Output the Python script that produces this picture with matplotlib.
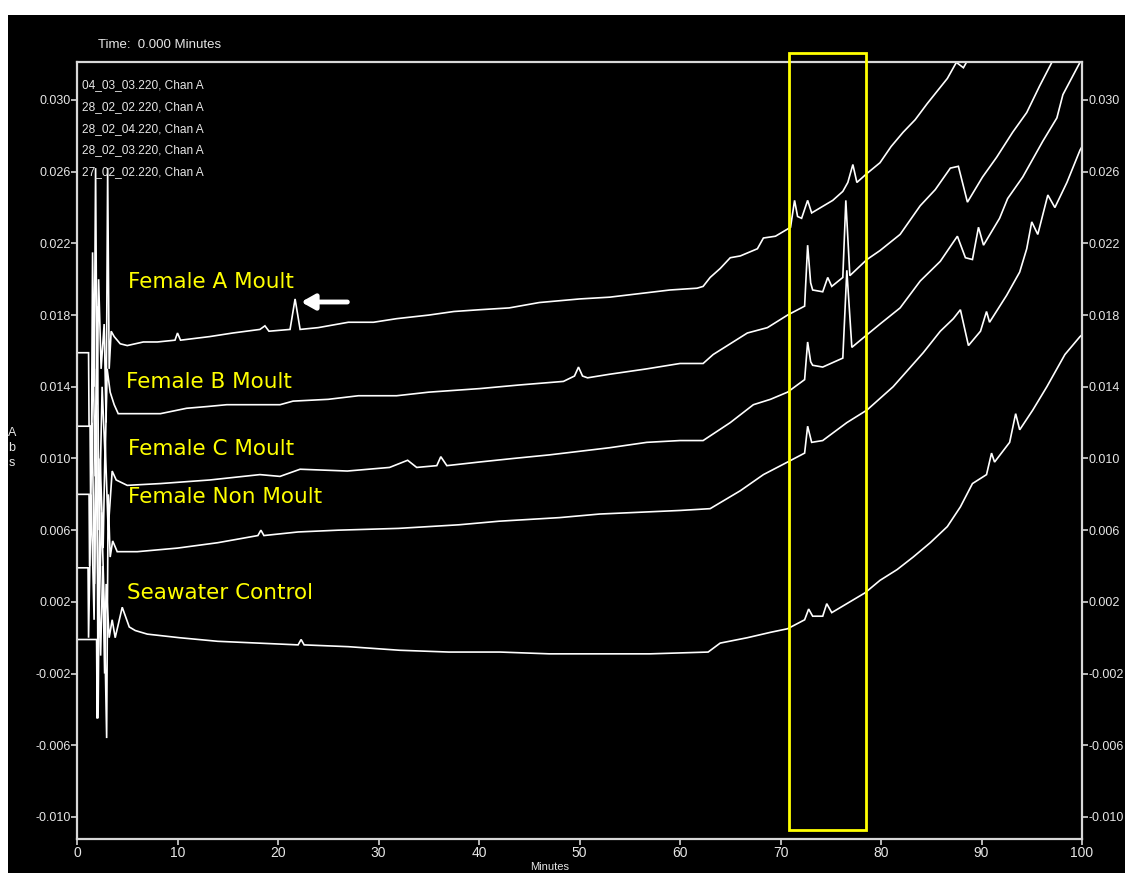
import matplotlib
matplotlib.use("Agg")
import matplotlib.pyplot as plt
from matplotlib.patches import Rectangle

# ---------------- data ----------------
female_a = [(0, 0.0159), (1.15, 0.0159), (1.2, 0.0118), (1.45, 0.0118), (1.55, 0.0215), (1.7, 0.0140),
            (1.85, 0.0262), (2.0, 0.0130), (2.15, 0.0200), (2.4, 0.0150), (2.7, 0.0175), (2.9, 0.0120),
            (3.05, 0.0262), (3.2, 0.0150), (3.4, 0.0171), (3.7, 0.0168), (4.3, 0.0164), (5.0, 0.0163),
            (6.6, 0.0165), (8.0, 0.0165), (9.75, 0.0166), (10.0, 0.0170), (10.3, 0.0166), (13.2, 0.0168),
            (15.5, 0.0170), (18.2, 0.0172), (18.7, 0.0174), (19.1, 0.0171), (21.2, 0.0172), (21.7, 0.0189),
            (22.2, 0.0172), (24.0, 0.0173), (27.0, 0.0176), (29.5, 0.0176), (31.8, 0.0178), (35.0, 0.0180),
            (37.5, 0.0182), (40.1, 0.0183), (43.0, 0.0184), (46.0, 0.0187), (50.0, 0.0189), (53.0, 0.0190),
            (56.0, 0.0192), (59.0, 0.0194), (61.7, 0.0195), (62.3, 0.0196), (63.0, 0.0201), (64.0, 0.0206),
            (65.0, 0.0212), (66.0, 0.0213), (67.7, 0.0217), (68.3, 0.0223), (69.5, 0.0224), (70.7, 0.0228),
            (71.0, 0.0229), (71.4, 0.0244), (71.7, 0.0235), (72.1, 0.0234), (72.7, 0.0244), (73.1, 0.0237),
            (74.0, 0.0240), (75.2, 0.0244), (76.2, 0.0249), (76.7, 0.0254), (77.2, 0.0264), (77.6, 0.0254),
            (78.6, 0.0259), (79.9, 0.0265), (81.0, 0.0274), (82.2, 0.0282), (83.4, 0.0289), (84.6, 0.0298),
            (85.6, 0.0305), (86.6, 0.0312), (87.5, 0.0321), (88.2, 0.0318), (88.8, 0.0324), (90.0, 0.0340)]

female_b = [(0, 0.0118), (1.3, 0.0118), (1.35, 0.0080), (1.6, 0.0160), (1.8, 0.0090), (2.0, 0.0185),
            (2.2, 0.0060), (2.5, 0.0140), (2.8, 0.0100), (3.0, 0.0150), (3.3, 0.0137), (3.7, 0.0130),
            (4.1, 0.0125), (6.0, 0.0125), (8.3, 0.0125), (10.9, 0.0128), (13.0, 0.0129), (14.9, 0.0130),
            (18.2, 0.0130), (20.2, 0.0130), (21.5, 0.0132), (25.0, 0.0133), (28.0, 0.0135), (31.8, 0.0135),
            (35.0, 0.0137), (40.1, 0.0139), (44.0, 0.0141), (48.4, 0.0143), (49.5, 0.0146), (49.9, 0.0151),
            (50.3, 0.0146), (50.8, 0.0145), (53.0, 0.0147), (56.7, 0.0150), (60.0, 0.0153), (62.3, 0.0153),
            (63.3, 0.0158), (65.0, 0.0164), (66.7, 0.0170), (68.7, 0.0173), (70.7, 0.0180), (72.4, 0.0185),
            (72.7, 0.0219), (73.0, 0.0198), (73.2, 0.0194), (74.2, 0.0193), (74.7, 0.0201), (75.1, 0.0196),
            (76.2, 0.0201), (76.5, 0.0244), (76.9, 0.0202), (78.6, 0.0211), (79.9, 0.0216), (81.9, 0.0225),
            (83.9, 0.0241), (85.4, 0.0250), (86.9, 0.0262), (87.7, 0.0263), (88.6, 0.0243), (90.1, 0.0257),
            (91.5, 0.0268), (93.1, 0.0282), (94.5, 0.0293), (95.8, 0.0308), (97.0, 0.0321), (98.0, 0.0330)]

female_c = [(0, 0.0080), (1.2, 0.0080), (1.25, 0.0040), (1.5, 0.0120), (1.75, 0.0030), (1.95, 0.0150),
            (2.1, -0.0045), (2.3, 0.0100), (2.6, 0.0050), (2.8, 0.0110), (3.1, 0.0060), (3.5, 0.0093),
            (3.9, 0.0088), (5.0, 0.0085), (8.3, 0.0086), (13.2, 0.0088), (18.2, 0.0091), (20.2, 0.0090),
            (22.2, 0.0094), (26.9, 0.0093), (31.1, 0.0095), (32.9, 0.0099), (33.8, 0.0095), (35.8, 0.0096),
            (36.2, 0.0101), (36.8, 0.0096), (40.0, 0.0098), (43.4, 0.0100), (47.0, 0.0102), (50.0, 0.0104),
            (53.0, 0.0106), (56.7, 0.0109), (60.0, 0.0110), (62.3, 0.0110), (65.0, 0.0120), (67.3, 0.0130),
            (69.0, 0.0133), (70.7, 0.0137), (72.4, 0.0144), (72.7, 0.0165), (73.0, 0.0154), (73.2, 0.0152),
            (74.2, 0.0151), (76.2, 0.0156), (76.6, 0.0205), (77.1, 0.0162), (78.6, 0.0169), (79.9, 0.0175),
            (81.9, 0.0184), (83.9, 0.0199), (85.9, 0.0210), (87.6, 0.0224), (88.4, 0.0212), (89.1, 0.0211),
            (89.7, 0.0229), (90.2, 0.0219), (91.8, 0.0234), (92.6, 0.0245), (94.1, 0.0257), (96.1, 0.0277),
            (97.5, 0.0290), (98.1, 0.0303), (99.8, 0.0321), (100.0, 0.0323)]

female_non = [(0, 0.0039), (1.1, 0.0039), (1.15, 0.0000), (1.4, 0.0080), (1.7, 0.0010), (1.9, 0.0110),
              (2.15, 0.0000), (2.45, 0.0070), (2.7, 0.0020), (2.95, -0.0056), (3.1, 0.0080), (3.3, 0.0045),
              (3.55, 0.0054), (4.0, 0.0048), (6.0, 0.0048), (10.0, 0.0050), (14.0, 0.0053), (18.0, 0.0057),
              (18.3, 0.0060), (18.6, 0.0057), (22.0, 0.0059), (26.0, 0.0060), (32.0, 0.0061), (38.0, 0.0063),
              (42.0, 0.0065), (48.0, 0.0067), (52.0, 0.0069), (56.0, 0.0070), (60.0, 0.0071), (63.0, 0.0072),
              (66.0, 0.0082), (68.3, 0.0091), (70.7, 0.0098), (72.4, 0.0103), (72.7, 0.0118), (73.1, 0.0109),
              (74.2, 0.0110), (76.6, 0.0120), (78.6, 0.0127), (81.2, 0.0140), (84.2, 0.0159), (85.9, 0.0171),
              (87.2, 0.0178), (87.9, 0.0183), (88.7, 0.0163), (89.9, 0.0171), (90.5, 0.0182), (90.8, 0.0176),
              (92.5, 0.0191), (93.8, 0.0204), (94.5, 0.0217), (95.0, 0.0232), (95.6, 0.0225), (96.6, 0.0247),
              (97.3, 0.0240), (98.5, 0.0254), (99.8, 0.0272), (100.0, 0.0274)]

seawater = [(0, -0.0001), (1.95, -0.0001), (2.0, -0.0045), (2.15, 0.0030), (2.35, -0.0010), (2.55, 0.0040),
            (2.75, -0.0020), (2.9, 0.0030), (3.2, 0.0000), (3.5, 0.0010), (3.8, 0.0000), (4.5, 0.0017),
            (5.2, 0.0006), (5.8, 0.0004), (7.0, 0.0002), (10.2, 0.0000), (14.0, -0.0002), (18.0, -0.0003),
            (22.0, -0.0004), (22.3, -0.0001), (22.6, -0.0004), (27.0, -0.0005), (32.1, -0.0007), (37.0, -0.0008),
            (42.1, -0.0008), (47.0, -0.0009), (52.0, -0.0009), (57.0, -0.0009), (62.8, -0.0008), (64.0, -0.0003),
            (66.7, 0.0000), (69.0, 0.0003), (70.7, 0.0005), (72.4, 0.0010), (72.8, 0.0016), (73.2, 0.0012),
            (74.2, 0.0012), (74.6, 0.0019), (75.1, 0.0014), (76.6, 0.0019), (78.4, 0.0025), (79.9, 0.0032),
            (81.6, 0.0038), (83.2, 0.0045), (84.9, 0.0053), (86.6, 0.0062), (87.9, 0.0073), (89.1, 0.0086),
            (90.5, 0.0091), (91.0, 0.0103), (91.3, 0.0098), (92.8, 0.0109), (93.4, 0.0125), (93.8, 0.0116),
            (95.1, 0.0127), (96.5, 0.0140), (98.3, 0.0158), (99.8, 0.0168), (100.0, 0.0169)]

traces = [female_a, female_b, female_c, female_non, seawater]

file_names = ["04_03_03.220, Chan A", "28_02_02.220, Chan A", "28_02_04.220, Chan A",
              "28_02_03.220, Chan A", "27_02_02.220, Chan A"]
sample_labels = ["Female A Moult", "Female B Moult", "Female C Moult",
                 "Female Non Moult", "Seawater Control"]
y_ticks = [0.030, 0.026, 0.022, 0.018, 0.014, 0.010, 0.006, 0.002, -0.002, -0.006, -0.010]
x_ticks = [0, 10, 20, 30, 40, 50, 60, 70, 80, 90, 100]
window_minutes = (70.85, 78.5)      # highlighted retention window
window_abs = (-0.01073, 0.03262)
arrow_peak = (22.2, 0.01873)        # peak flagged on Female A

# ---------------- figure ----------------
W, H = 1125, 873
fig = plt.figure(figsize=(W / 100, H / 100), dpi=100, facecolor="white")
fig.patches.append(Rectangle((8 / W, 0), 1 - 8 / W, 1 - 15 / H, transform=fig.transFigure,
                             facecolor="black", edgecolor="none", zorder=-10))


def fpos(px, py):
    return px / W, 1 - py / H


left, right, top, bottom = 77, 1082, 62, 839
ax = fig.add_axes([left / W, 1 - bottom / H, (right - left) / W, (bottom - top) / H])
ax.set_facecolor("black")
ax.set_xlim(0, 100)
ax.set_ylim(-0.01123, 0.03212)

small = "Liberation Sans"
fg = "#e6e6e6"

for tr in traces:
    t = [p[0] for p in tr]
    v = [p[1] for p in tr]
    ax.plot(t, v, color="white", lw=1.2, solid_joinstyle="miter")

for s in ax.spines.values():
    s.set_color("#d8d8d8")
    s.set_linewidth(1.6)

ax.set_xticks(x_ticks)
ax.set_xticklabels([str(x) for x in x_ticks], family=small, fontsize=10, color=fg)
ax.set_yticks(y_ticks)
ax.set_yticklabels([f"{y:.3f}" for y in y_ticks], family=small, fontsize=9, color=fg)
ax.tick_params(axis="both", direction="out", color="#d8d8d8", length=4, width=1.2, pad=1)
ax.tick_params(axis="y", left=True, right=True, labelleft=True, labelright=True)
ax.tick_params(axis="y", which="major", pad=0.5)

# highlighted window
ax.add_patch(Rectangle((window_minutes[0], window_abs[0]), window_minutes[1] - window_minutes[0],
                       window_abs[1] - window_abs[0], facecolor="none", edgecolor="#ffff00", lw=2,
                       clip_on=False, zorder=5))

# arrow pointing at the flagged peak
ax.annotate("", xy=(arrow_peak[0] + 0.1, arrow_peak[1]), xytext=(arrow_peak[0] + 4.7, arrow_peak[1]),
            arrowprops=dict(arrowstyle="-|>,head_length=0.8,head_width=0.45", color="white", lw=3.5,
                            shrinkA=0, shrinkB=0))

# run header and file list
fig.text(*fpos(98, 45), "Time:  0.000 Minutes", family=small, fontsize=9.5, color=fg, va="center")
for i, name in enumerate(file_names):
    fig.text(*fpos(82, 85 + i * 21.8), name, family=small, fontsize=8.6, color=fg, va="center")

# sample labels
label_pos = [(128, 282), (126, 382), (128, 449), (128, 497), (127, 593)]
for (px, py), lab in zip(label_pos, sample_labels):
    fig.text(*fpos(px, py), lab, family="DejaVu Sans", fontsize=15.5, color="#ffff00", va="center")

# axis titles
fig.text(*fpos(12, 448), "A\nb\ns", family=small, fontsize=9, color=fg, ha="center", va="center",
         linespacing=1.3)
fig.text(*fpos(550, 872), "Minutes", family=small, fontsize=8, color=fg, ha="center", va="bottom")

fig.savefig("out.png", dpi=100, facecolor="white")
